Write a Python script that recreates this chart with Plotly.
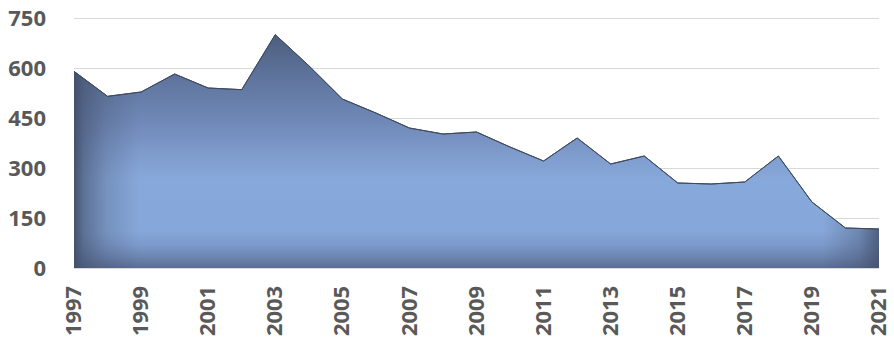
import plotly.graph_objects as go

years = list(range(1997, 2022))
values = [590, 515, 528, 582, 540, 535, 700, 607, 507, 465, 420, 402, 408,
          363, 321, 390, 312, 336, 255, 252, 258, 336, 198, 120, 117]
y_ticks = [0, 150, 300, 450, 600, 750]
x_ticks = list(range(1997, 2022, 2))

fig = go.Figure()
fig.add_trace(go.Scatter(
    x=years, y=values, mode="lines", fill="tozeroy",
    line=dict(color="#3f4a5e", width=1),
    fillgradient=dict(type="vertical", start=0, stop=700,
                      colorscale=[[0, "#5a6d93"], [0.04, "#6a82ad"], [0.1, "#7c9acb"],
                                  [0.16, "#86a7d9"], [0.38, "#87a8da"], [0.5, "#7d9acb"],
                                  [0.62, "#7089b8"], [0.8, "#60769f"], [1, "#4d5d7e"]]),
    hoverinfo="skip",
))
fig.add_trace(go.Scatter(
    x=years, y=values, mode="lines", fill="tozeroy",
    line=dict(color="#3f4a5e", width=1),
    fillgradient=dict(type="horizontal", start=1997, stop=2021,
                      colorscale=[[0, "rgba(65,78,105,0.95)"], [0.012, "rgba(65,78,105,0.6)"],
                                  [0.04, "rgba(65,78,105,0.25)"], [0.08, "rgba(65,78,105,0)"],
                                  [0.93, "rgba(65,78,105,0)"], [0.975, "rgba(65,78,105,0.35)"],
                                  [1, "rgba(65,78,105,0.8)"]]),
    hoverinfo="skip",
))

fig.update_layout(
    width=894, height=339,
    margin=dict(l=74, r=15, t=16, b=71),
    paper_bgcolor="white", plot_bgcolor="white",
    showlegend=False,
    font=dict(family="Open Sans", color="#595959"),
)
fig.update_xaxes(
    range=[1997, 2021], tickvals=x_ticks, ticktext=[str(v) for v in x_ticks],
    tickangle=-90, tickfont=dict(size=22, weight="bold", color="#595959"),
    showgrid=False, zeroline=False, showline=True, linecolor="#d9d9d9", linewidth=1,
    ticks="", ticklabelstandoff=8, automargin=False,
)
fig.update_yaxes(
    range=[0, 756], tickvals=y_ticks, ticktext=[str(v) for v in y_ticks],
    tickfont=dict(size=22, weight="bold", color="#595959"),
    showgrid=True, gridcolor="#d9d9d9", gridwidth=1, zeroline=False,
    ticks="", ticklabelstandoff=27, automargin=False,
)

fig.write_html("out.html")
